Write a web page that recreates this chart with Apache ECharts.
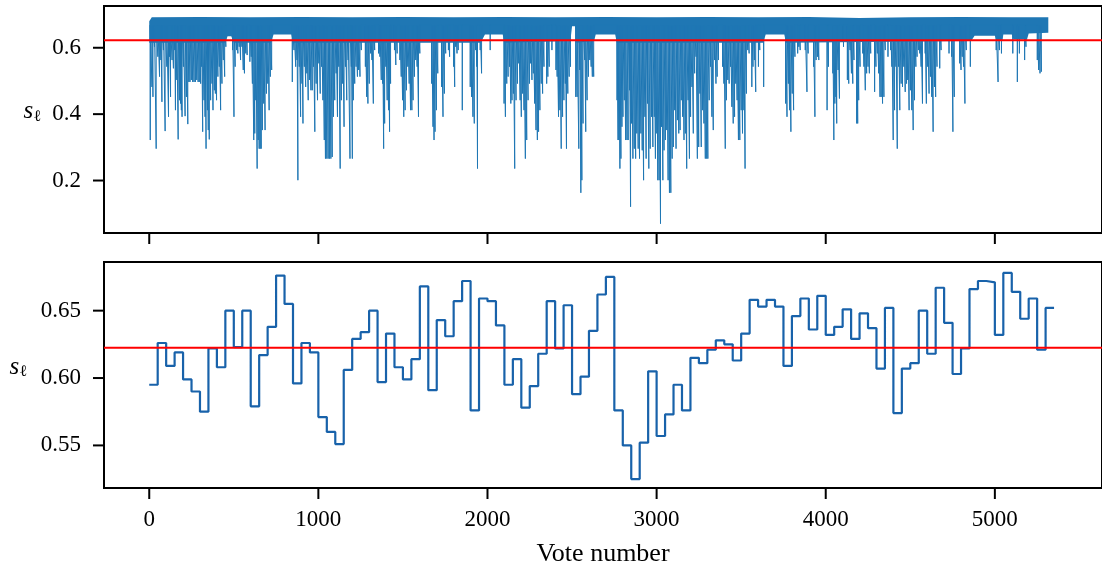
<!DOCTYPE html>
<html>
<head>
<meta charset="utf-8">
<script src="https://cdn.jsdelivr.net/npm/echarts@6/dist/echarts.min.js"></script>
<style>
  html, body { margin: 0; padding: 0; background: #fff; }
  #chart { width: 1102px; height: 569px; }
</style>
</head>
<body>
<div id="chart"></div>
<script>
// ---- data -------------------------------------------------------------

// Reference level s_l drawn as a horizontal red line in both panels
const threshold = 0.6225;

// Tick values
const voteTicks = [0, 1000, 2000, 3000, 4000, 5000];
const topTicks = [0.2, 0.4, 0.6];
const bottomTicks = [0.55, 0.60, 0.65];

// Per-vote series (upper panel): upper edge of the dense band, [vote, value]
const bandTop = [
  [0, 0.680], [15, 0.692], [300, 0.693], [600, 0.692], [900, 0.693], [1200, 0.692],
  [1500, 0.693], [1800, 0.692], [2100, 0.693], [2400, 0.692], [2700, 0.693], [3000, 0.692],
  [3300, 0.693], [3600, 0.692], [3900, 0.693], [4200, 0.690], [4500, 0.692], [4800, 0.693],
  [5100, 0.692], [5316, 0.692]
];
// lower edge of the dense band, [vote, value]
const bandFloor = [
  [0, 0.615], [450, 0.615], [463, 0.635], [485, 0.635], [500, 0.615], [720, 0.615],
  [735, 0.640], [840, 0.640], [850, 0.615], [1960, 0.615], [1985, 0.640], [2090, 0.640],
  [2100, 0.615], [2490, 0.620], [2500, 0.665], [2518, 0.665], [2525, 0.615], [2630, 0.620],
  [2640, 0.640], [2755, 0.640], [2765, 0.615], [3630, 0.615], [3645, 0.640], [3755, 0.640],
  [3765, 0.615], [4860, 0.620], [4880, 0.636], [5000, 0.636], [5010, 0.620], [5045, 0.620],
  [5050, 0.640], [5100, 0.640], [5110, 0.625], [5190, 0.625], [5200, 0.643], [5316, 0.645]
];

// ... and the downward excursions below it: [vote, value]
const spikeLows = [
  [6,0.322],[16,0.482],[22,0.452],[31,0.603],[41,0.296],[51,0.573],[61,0.513],[69,0.563],[75,0.437],[84,0.593],
  [94,0.349],[104,0.543],[114,0.392],[120,0.573],[126,0.452],[135,0.563],[143,0.538],[151,0.593],[155,0.412],[163,0.503],
  [171,0.324],[179,0.442],[185,0.432],[190,0.412],[194,0.392],[202,0.543],[212,0.394],[220,0.452],[228,0.370],[234,0.497],
  [241,0.497],[249,0.503],[257,0.497],[265,0.497],[273,0.497],[281,0.503],[289,0.497],[296,0.497],[304,0.492],[310,0.543],
  [316,0.347],[324,0.442],[330,0.392],[336,0.296],[344,0.412],[349,0.352],[355,0.324],[363,0.442],[371,0.492],[377,0.412],
  [385,0.472],[391,0.462],[398,0.442],[406,0.513],[414,0.543],[422,0.412],[430,0.492],[438,0.563],[446,0.513],[453,0.603],
  [493,0.593],[501,0.392],[508,0.543],[516,0.593],[524,0.583],[532,0.603],[540,0.563],[548,0.603],[556,0.533],[563,0.523],
  [571,0.583],[579,0.578],[595,0.558],[603,0.573],[610,0.492],[618,0.322],[624,0.342],[630,0.442],[638,0.236],[644,0.322],
  [650,0.296],[656,0.296],[662,0.296],[669,0.352],[677,0.432],[685,0.352],[693,0.462],[701,0.492],[709,0.412],[716,0.513],
  [724,0.533],[846,0.497],[856,0.593],[866,0.543],[874,0.563],[879,0.201],[887,0.543],[895,0.392],[903,0.492],[909,0.372],
  [917,0.543],[925,0.482],[932,0.523],[940,0.442],[948,0.503],[956,0.472],[964,0.472],[971,0.543],[979,0.347],[987,0.492],
  [995,0.442],[1003,0.553],[1011,0.462],[1019,0.543],[1027,0.442],[1035,0.322],[1042,0.266],[1050,0.266],[1058,0.266],[1066,0.266],
  [1074,0.266],[1082,0.271],[1089,0.392],[1097,0.442],[1105,0.523],[1113,0.392],[1121,0.543],[1129,0.236],[1136,0.442],[1144,0.492],
  [1152,0.362],[1160,0.543],[1168,0.442],[1176,0.563],[1187,0.266],[1195,0.543],[1201,0.266],[1207,0.442],[1215,0.492],[1223,0.543],
  [1231,0.513],[1238,0.533],[1246,0.513],[1254,0.593],[1278,0.543],[1286,0.452],[1293,0.432],[1301,0.492],[1309,0.583],[1317,0.563],
  [1325,0.432],[1333,0.593],[1356,0.583],[1364,0.573],[1372,0.503],[1380,0.492],[1386,0.296],[1392,0.372],[1399,0.543],[1407,0.442],
  [1415,0.412],[1421,0.347],[1427,0.492],[1450,0.593],[1458,0.548],[1466,0.583],[1482,0.563],[1490,0.513],[1498,0.442],[1505,0.392],
  [1513,0.412],[1521,0.472],[1529,0.543],[1537,0.492],[1545,0.412],[1553,0.412],[1560,0.442],[1568,0.513],[1576,0.563],[1584,0.543],
  [1592,0.392],[1600,0.583],[1670,0.492],[1678,0.362],[1684,0.322],[1690,0.347],[1698,0.412],[1706,0.523],[1729,0.482],[1737,0.392],
  [1745,0.462],[1753,0.583],[1769,0.593],[1776,0.573],[1800,0.543],[1806,0.482],[1812,0.603],[1820,0.583],[1827,0.593],[1851,0.412],
  [1898,0.482],[1906,0.452],[1914,0.392],[1922,0.372],[1930,0.593],[1937,0.543],[1941,0.236],[1957,0.593],[1965,0.523],[2016,0.593],
  [2098,0.432],[2106,0.392],[2114,0.492],[2122,0.513],[2130,0.543],[2138,0.432],[2145,0.442],[2153,0.462],[2161,0.236],[2169,0.442],
  [2177,0.492],[2185,0.553],[2193,0.442],[2200,0.392],[2208,0.462],[2216,0.412],[2224,0.266],[2232,0.322],[2240,0.442],[2248,0.492],
  [2255,0.553],[2263,0.503],[2271,0.523],[2279,0.432],[2287,0.352],[2295,0.322],[2302,0.347],[2310,0.412],[2318,0.492],[2326,0.462],
  [2334,0.543],[2350,0.492],[2357,0.513],[2365,0.543],[2381,0.593],[2405,0.533],[2412,0.513],[2420,0.392],[2428,0.412],[2436,0.296],
  [2444,0.392],[2452,0.442],[2460,0.492],[2467,0.296],[2475,0.462],[2483,0.513],[2491,0.543],[2522,0.452],[2530,0.452],[2540,0.296],
  [2546,0.533],[2552,0.163],[2558,0.201],[2565,0.372],[2575,0.563],[2581,0.347],[2589,0.442],[2597,0.513],[2605,0.563],[2613,0.543],
  [2620,0.513],[2628,0.513],[2766,0.442],[2772,0.322],[2777,0.322],[2783,0.236],[2789,0.266],[2795,0.362],[2801,0.392],[2809,0.442],
  [2817,0.322],[2825,0.322],[2832,0.322],[2840,0.472],[2846,0.121],[2852,0.372],[2860,0.266],[2868,0.296],[2876,0.266],[2883,0.342],
  [2891,0.296],[2899,0.266],[2907,0.342],[2915,0.291],[2923,0.201],[2931,0.392],[2938,0.266],[2946,0.432],[2954,0.236],[2962,0.296],
  [2970,0.392],[2978,0.301],[2986,0.392],[2993,0.266],[3001,0.342],[3007,0.201],[3015,0.201],[3023,0.070],[3029,0.362],[3037,0.201],
  [3044,0.291],[3052,0.322],[3060,0.352],[3068,0.201],[3076,0.163],[3084,0.163],[3092,0.266],[3099,0.301],[3107,0.412],[3115,0.296],
  [3123,0.382],[3131,0.342],[3139,0.352],[3146,0.442],[3154,0.392],[3162,0.322],[3170,0.342],[3178,0.236],[3186,0.442],[3194,0.266],
  [3201,0.392],[3209,0.482],[3217,0.342],[3225,0.523],[3233,0.573],[3241,0.266],[3249,0.301],[3256,0.462],[3264,0.301],[3272,0.412],
  [3280,0.372],[3288,0.266],[3296,0.266],[3303,0.266],[3311,0.442],[3319,0.543],[3327,0.392],[3335,0.352],[3343,0.563],[3351,0.492],
  [3358,0.513],[3366,0.563],[3390,0.543],[3398,0.492],[3406,0.296],[3413,0.442],[3421,0.503],[3429,0.492],[3437,0.543],[3445,0.422],
  [3453,0.372],[3461,0.392],[3468,0.492],[3476,0.442],[3484,0.322],[3492,0.322],[3500,0.412],[3508,0.342],[3516,0.412],[3523,0.236],
  [3531,0.462],[3539,0.593],[3547,0.583],[3563,0.482],[3570,0.543],[3578,0.563],[3586,0.467],[3602,0.543],[3610,0.593],[3633,0.482],
  [3763,0.432],[3771,0.392],[3779,0.492],[3786,0.412],[3794,0.347],[3802,0.462],[3810,0.412],[3818,0.573],[3834,0.583],[3841,0.603],
  [3849,0.593],[3879,0.593],[3889,0.467],[3896,0.583],[3928,0.543],[3936,0.392],[3943,0.563],[3951,0.573],[3959,0.563],[4008,0.412],
  [4016,0.543],[4042,0.523],[4048,0.322],[4054,0.432],[4060,0.452],[4065,0.372],[4073,0.533],[4081,0.447],[4105,0.603],[4128,0.503],
  [4136,0.492],[4144,0.593],[4152,0.523],[4160,0.492],[4167,0.563],[4183,0.372],[4189,0.372],[4195,0.442],[4203,0.543],[4219,0.583],
  [4226,0.543],[4234,0.472],[4242,0.523],[4250,0.543],[4258,0.523],[4266,0.583],[4289,0.467],[4297,0.543],[4305,0.583],[4313,0.523],
  [4321,0.452],[4328,0.452],[4336,0.432],[4344,0.452],[4352,0.593],[4368,0.573],[4383,0.593],[4391,0.543],[4399,0.322],[4407,0.412],
  [4415,0.543],[4423,0.296],[4431,0.543],[4438,0.412],[4446,0.492],[4454,0.482],[4462,0.543],[4470,0.467],[4478,0.492],[4485,0.503],
  [4493,0.412],[4501,0.472],[4509,0.412],[4517,0.352],[4525,0.442],[4533,0.543],[4540,0.573],[4548,0.593],[4556,0.583],[4564,0.543],
  [4572,0.432],[4588,0.583],[4595,0.432],[4603,0.543],[4611,0.462],[4619,0.513],[4627,0.452],[4635,0.347],[4643,0.482],[4650,0.452],
  [4658,0.543],[4674,0.538],[4682,0.593],[4729,0.583],[4745,0.573],[4752,0.347],[4760,0.452],[4792,0.553],[4800,0.533],[4807,0.573],
  [4815,0.543],[4823,0.432],[4831,0.593],[4855,0.543],[5008,0.593],[5019,0.497],[5027,0.593],[5039,0.583],[5106,0.583],[5133,0.497],
  [5145,0.583],[5176,0.563],[5184,0.603],[5251,0.563],[5259,0.533],[5267,0.523],[5275,0.528]
];

// Windowed average (lower panel): window start votes and window values
const windowStarts = [0, 50, 100, 150, 200, 250, 300, 350, 400, 450,
  500, 550, 600, 650, 700, 750, 800, 850, 900, 950,
  1000, 1050, 1100, 1150, 1200, 1250, 1300, 1350, 1400, 1450,
  1500, 1550, 1600, 1650, 1700, 1750, 1800, 1850, 1900, 1950,
  2000, 2050, 2100, 2150, 2200, 2250, 2300, 2350, 2400, 2450,
  2500, 2550, 2600, 2650, 2700, 2750, 2800, 2850, 2900, 2950,
  3000, 3050, 3100, 3150, 3200, 3250, 3300, 3350, 3400, 3450,
  3500, 3550, 3600, 3650, 3700, 3750, 3800, 3850, 3900, 3950,
  4000, 4050, 4100, 4150, 4200, 4250, 4300, 4350, 4400, 4450,
  4500, 4550, 4600, 4650, 4700, 4750, 4800, 4850, 4900, 4950,
  5000, 5050, 5100, 5150, 5200, 5250, 5300];
const windowEnd = 5350;
const windowValues = [0.595, 0.626, 0.609, 0.619, 0.599, 0.590, 0.575, 0.622, 0.608, 0.650,
  0.623, 0.650, 0.579, 0.617, 0.638, 0.676, 0.655, 0.596, 0.626, 0.619,
  0.571, 0.560, 0.551, 0.606, 0.629, 0.634, 0.650, 0.597, 0.633, 0.608,
  0.599, 0.614, 0.668, 0.591, 0.643, 0.631, 0.657, 0.672, 0.576, 0.659,
  0.657, 0.639, 0.595, 0.614, 0.578, 0.594, 0.618, 0.657, 0.622, 0.654,
  0.588, 0.601, 0.635, 0.662, 0.675, 0.576, 0.550, 0.525, 0.552, 0.605,
  0.557, 0.573, 0.595, 0.576, 0.615, 0.611, 0.621, 0.628, 0.625, 0.613,
  0.633, 0.658, 0.653, 0.658, 0.653, 0.609, 0.646, 0.659, 0.636, 0.661,
  0.632, 0.638, 0.651, 0.629, 0.648, 0.637, 0.607, 0.652, 0.574, 0.607,
  0.611, 0.650, 0.618, 0.667, 0.641, 0.603, 0.622, 0.666, 0.672, 0.671,
  0.632, 0.678, 0.664, 0.644, 0.659, 0.621, 0.652];

// ---- build series data --------------------------------------------------

// vertical strokes from inside the band down to each low value
const spikeBase = 0.668;
const spikeData = [];
spikeLows.forEach(function (p) {
  spikeData.push([p[0], spikeBase], [p[0], p[1]], [p[0], spikeBase]);
});

// step line: each window value held until the next window starts
const stepData = windowStarts.map(function (v, i) { return [v, windowValues[i]]; });
stepData.push([windowEnd, windowValues[windowValues.length - 1]]);

// ---- chart --------------------------------------------------------------

const FONT = "'Liberation Serif', 'DejaVu Serif', serif";
const AXIS_MIN = -267.5, AXIS_MAX = 5633.5;
const TOP_MIN = 0.0419, TOP_MAX = 0.7258;
const BOT_MIN = 0.5184, BOT_MAX = 0.6861;
const BLUE = '#1f77b4';
const TICK_LEN = 11;

// horizontal reference line spanning the whole x range
const thresholdLine = [[AXIS_MIN, threshold], [AXIS_MAX, threshold]];

const chart = echarts.init(document.getElementById('chart'), null, { renderer: 'canvas' });

function xAxisFor(gridIndex, withLabels) {
  return {
    type: 'value', gridIndex: gridIndex, min: AXIS_MIN, max: AXIS_MAX,
    axisLine: { show: false, onZero: false },
    splitLine: { show: false },
    axisTick: { show: false },
    axisLabel: { show: withLabels, customValues: voteTicks, margin: 20,
      fontFamily: FONT, fontSize: 23, color: '#000',
      formatter: function (v) { return String(v); } },
    name: withLabels ? 'Vote number' : '',
    nameLocation: 'middle', nameGap: 53,
    nameTextStyle: { fontFamily: FONT, fontSize: 26, color: '#000' }
  };
}

function yAxisFor(gridIndex, min, max, ticks, digits, nameGap) {
  return {
    type: 'value', gridIndex: gridIndex, min: min, max: max,
    axisLine: { show: false, onZero: false },
    splitLine: { show: false },
    axisTick: { show: false },
    axisLabel: { customValues: ticks, margin: 23,
      fontFamily: FONT, fontSize: 23, color: '#000',
      formatter: function (v) { return v.toFixed(digits); } },
    name: '{s|s}{l|ℓ}',
    nameLocation: 'middle', nameRotate: 0, nameGap: nameGap,
    nameTextStyle: {
      padding: [0, 0, 16, 0],
      rich: {
        s: { fontFamily: FONT, fontStyle: 'italic', fontSize: 25, color: '#000', lineHeight: 26, verticalAlign: 'middle' },
        l: { fontFamily: FONT, fontSize: 16, color: '#000', lineHeight: 26, verticalAlign: 'bottom' }
      }
    }
  };
}

// Outward tick marks under the upper panel, placed with the axes' own scales
function tickSeries(gridIndex, points, dx, dy) {
  return {
    type: 'custom', xAxisIndex: gridIndex, yAxisIndex: gridIndex,
    silent: true, clip: false, z: 100,
    data: points,
    renderItem: function (params, api) {
      const p = api.coord([api.value(0), api.value(1)]);
      return {
        type: 'line',
        shape: { x1: p[0], y1: p[1], x2: p[0] + dx, y2: p[1] + dy },
        style: { stroke: '#000', lineWidth: 2 }
      };
    }
  };
}

const option = {
  animation: false,
  backgroundColor: '#fff',
  grid: [
    { left: 104, top: 6, width: 1002, height: 227, show: true, borderColor: '#000', borderWidth: 2, backgroundColor: 'transparent' },
    { left: 104, top: 262, width: 1002, height: 226, show: true, borderColor: '#000', borderWidth: 2, backgroundColor: 'transparent' }
  ],
  xAxis: [xAxisFor(0, false), xAxisFor(1, true)],
  yAxis: [
    yAxisFor(0, TOP_MIN, TOP_MAX, topTicks, 1, 63),
    yAxisFor(1, BOT_MIN, BOT_MAX, bottomTicks, 2, 77)
  ],
  series: [
    {
      // solid band of the per-vote series, between its upper and lower edges
      type: 'custom', xAxisIndex: 0, yAxisIndex: 0, silent: true, clip: true, z: 2,
      data: [bandTop[0]],
      renderItem: function (params, api) {
        const pts = [];
        bandTop.forEach(function (p) { pts.push(api.coord(p)); });
        for (let i = bandFloor.length - 1; i >= 0; i--) pts.push(api.coord(bandFloor[i]));
        return { type: 'polygon', shape: { points: pts }, style: { fill: BLUE } };
      }
    },
    {
      type: 'line', xAxisIndex: 0, yAxisIndex: 0, z: 3, silent: true,
      data: spikeData, symbol: 'none',
      lineStyle: { color: BLUE, width: 1 }
    },
    {
      type: 'line', xAxisIndex: 0, yAxisIndex: 0, z: 5, silent: true,
      data: thresholdLine, symbol: 'none',
      lineStyle: { color: '#ff0000', width: 2 }
    },
    {
      type: 'line', xAxisIndex: 1, yAxisIndex: 1, z: 3, silent: true,
      data: stepData, step: 'end', symbol: 'none',
      lineStyle: { color: '#1862aa', width: 2.2 }
    },
    {
      type: 'line', xAxisIndex: 1, yAxisIndex: 1, z: 5, silent: true,
      data: thresholdLine, symbol: 'none',
      lineStyle: { color: '#ff0000', width: 2 }
    },
    tickSeries(0, voteTicks.map(function (v) { return [v, TOP_MIN]; }), 0, TICK_LEN)
  ]
};

chart.setOption(option);

// Remaining outward ticks (left edges, bottom edge of the lower panel),
// positioned through the grids' pixel conversion
function tickGraphic(gridIndex, value, dx, dy) {
  const p = chart.convertToPixel({ gridIndex: gridIndex }, value);
  return {
    type: 'line', silent: true, z: 100,
    shape: { x1: p[0], y1: p[1], x2: p[0] + dx, y2: p[1] + dy },
    style: { stroke: '#000', lineWidth: 2 }
  };
}

const tickElements = []
  .concat(topTicks.map(function (v) { return tickGraphic(0, [AXIS_MIN, v], -TICK_LEN, 0); }))
  .concat(bottomTicks.map(function (v) { return tickGraphic(1, [AXIS_MIN, v], -TICK_LEN, 0); }))
  .concat(voteTicks.map(function (v) { return tickGraphic(1, [v, BOT_MIN], 0, TICK_LEN); }));

chart.setOption({ graphic: { elements: tickElements } });
</script>
</body>
</html>
